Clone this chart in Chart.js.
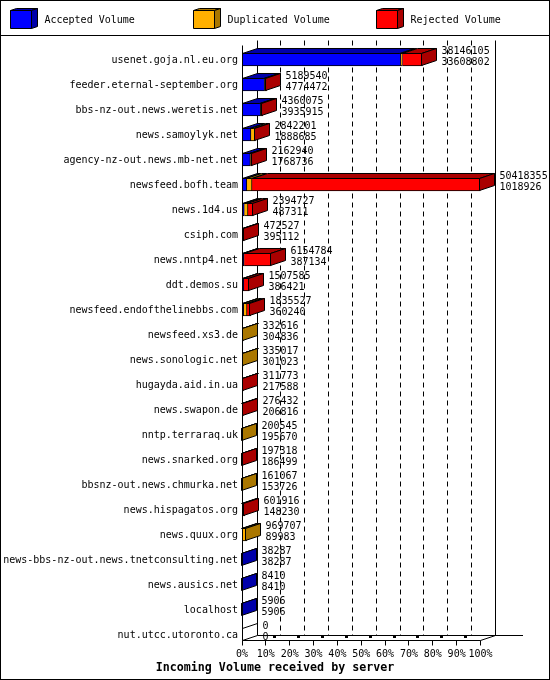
<!DOCTYPE html>
<html>
<head>
<meta charset="utf-8">
<title>Incoming Volume received by server</title>
<script src="https://cdn.jsdelivr.net/npm/chart.js@4/dist/chart.umd.min.js"></script>
<style>
    html, body { margin: 0; padding: 0; background: #fff; }
    canvas { display: block; }
</style>
</head>
<body>
<canvas id="volumeChart" width="550" height="680"></canvas>
<script>
    // Data
    const servers = [
        'usenet.goja.nl.eu.org', 'feeder.eternal-september.org', 'bbs-nz-out.news.weretis.net',
        'news.samoylyk.net', 'agency-nz-out.news.mb-net.net', 'newsfeed.bofh.team',
        'news.1d4.us', 'csiph.com', 'news.nntp4.net', 'ddt.demos.su',
        'newsfeed.endofthelinebbs.com', 'newsfeed.xs3.de', 'news.sonologic.net',
        'hugayda.aid.in.ua', 'news.swapon.de', 'nntp.terraraq.uk', 'news.snarked.org',
        'bbsnz-out.news.chmurka.net', 'news.hispagatos.org', 'news.quux.org',
        'news-bbs-nz-out.news.tnetconsulting.net', 'news.ausics.net', 'localhost',
        'nut.utcc.utoronto.ca'
    ];
    const totalVolume = [
        38146105, 5189540, 4360075, 2842201, 2162940, 50418355, 2394727, 472527,
        6154784, 1507585, 1835527, 332616, 335017, 311773, 276432, 200545,
        197318, 161067, 601916, 969707, 38287, 8410, 5906, 0
    ];
    const acceptedVolume = [
        33608802, 4774472, 3935915, 1888685, 1768736, 1018926, 487311, 395112,
        387134, 386421, 360240, 304836, 301023, 217588, 206816, 195670,
        186499, 153726, 148230, 89983, 38287, 8410, 5906, 0
    ];
    // duplicated / rejected are estimated from the width of the segments
    const duplicatedVolume = [
        300000, 260000, 120000, 800000, 40000, 1100000, 780000, 0,
        60000, 0, 700000, 27780, 33994, 0, 0, 4875,
        0, 7341, 0, 879724, 0, 0, 0, 0
    ];
    const rejectedVolume = [
        4237303, 155068, 304160, 153516, 354204, 48299429, 1127416, 77415,
        5707650, 1121164, 775287, 0, 0, 94185, 69616, 0,
        10819, 0, 453686, 0, 0, 0, 0, 0
    ];
    const tickLabels = ['0%', '10%', '20%', '30%', '40%', '50%', '60%', '70%', '80%', '90%', '100%'];

    const seriesNames = ['Accepted Volume', 'Duplicated Volume', 'Rejected Volume'];
    const frontColors = ['#0000ff', '#ffb000', '#ff0000'];
    const darkColors = ['#0000aa', '#aa7700', '#aa0000'];

    const maxVolume = Math.max(...totalVolume);
    const MONO = '"DejaVu Sans Mono", monospace';
    const DEPTH_X = 15, DEPTH_Y = 5;

    // Ham phu: ve da giac
    function poly(ctx, pts, fill) {
        ctx.beginPath();
        pts.forEach((p, i) => i ? ctx.lineTo(p[0], p[1]) : ctx.moveTo(p[0], p[1]));
        ctx.closePath();
        if (fill) { ctx.fillStyle = fill; ctx.fill(); }
        ctx.stroke();
    }
    function line(ctx, x1, y1, x2, y2) {
        ctx.beginPath();
        ctx.moveTo(x1, y1);
        ctx.lineTo(x2, y2);
        ctx.stroke();
    }
    const snap = v => Math.floor(v) + 0.5;

    // Frame, legend, back walls and floor, drawn behind the bars
    const backdrop = {
        id: 'backdrop',
        afterLayout(chart) {
            // the title is centred on the whole picture, not on the plot
            chart.titleBlock.left = 0;
            chart.titleBlock.right = 550;
        },
        beforeDatasetsDraw(chart) {
            const ctx = chart.ctx, xs = chart.scales.x;
            const floorBack = 635.5, floorFront = 640.5, wallTop = 40.5;
            ctx.save();
            ctx.strokeStyle = '#000';
            ctx.lineWidth = 1;

            // legend
            line(ctx, 0, 35.5, 550, 35.5);
            ctx.font = '10px ' + MONO;
            ctx.textBaseline = 'middle';
            ctx.textAlign = 'left';
            seriesNames.forEach((name, i) => {
                const x = 10.5 + i * 183;
                poly(ctx, [[x, 10.5], [x + 6, 8.5], [x + 27, 8.5], [x + 21, 10.5]], darkColors[i]);
                poly(ctx, [[x + 21, 10.5], [x + 27, 8.5], [x + 27, 26.5], [x + 21, 28.5]], darkColors[i]);
                poly(ctx, [[x, 10.5], [x + 21, 10.5], [x + 21, 28.5], [x, 28.5]], frontColors[i]);
                ctx.fillStyle = '#000';
                ctx.fillText(name, x + 34, 20.5);
            });

            // grid on the back wall
            ctx.setLineDash([5, 4]);
            xs.ticks.forEach((t, i) => {
                if (i === 0 || i === xs.ticks.length - 1) return;
                const x = snap(xs.getPixelForValue(t.value)) + DEPTH_X;
                line(ctx, x, wallTop, x, floorBack);
            });
            ctx.setLineDash([]);

            const left = snap(xs.getPixelForValue(0));
            const right = snap(xs.getPixelForValue(maxVolume));
            line(ctx, left + DEPTH_X, wallTop, left + DEPTH_X, floorBack);
            line(ctx, right + DEPTH_X, wallTop, right + DEPTH_X, floorBack);

            // floor
            line(ctx, left + DEPTH_X, floorBack, 523, floorBack);
            line(ctx, left, floorFront, right, floorFront);
            line(ctx, left, floorFront, left + DEPTH_X, floorBack);
            line(ctx, right, floorFront, right + DEPTH_X, floorBack);
            xs.ticks.forEach((t, i) => {
                const x = snap(xs.getPixelForValue(t.value));
                line(ctx, x, floorFront, x, 645.5);
                if (i > 0 && i < xs.ticks.length - 1) {
                    ctx.fillStyle = '#000';
                    ctx.fillRect(x + 7.5, 636, 3, 2);
                }
            });
            ctx.restore();
        },
        afterDatasetsDraw(chart) {
            const ctx = chart.ctx, xs = chart.scales.x;
            const metas = [0, 1, 2].map(d => chart.getDatasetMeta(d));
            const series = [acceptedVolume, duplicatedVolume, rejectedVolume];
            ctx.save();
            ctx.strokeStyle = '#000';
            ctx.lineWidth = 1;

            servers.forEach((name, i) => {
                const first = metas[0].data[i];
                const top = first.y - first.height / 2 + 0.5;
                const bottom = first.y + first.height / 2 - 0.5;
                let last = -1;

                // top face of each segment
                series.forEach((values, d) => {
                    if (!values[i]) return;
                    const el = metas[d].data[i];
                    const x0 = snap(el.base), x1 = snap(el.x - 1);
                    poly(ctx, [[x0, top], [x1, top], [x1 + DEPTH_X, top - DEPTH_Y], [x0 + DEPTH_X, top - DEPTH_Y]], darkColors[d]);
                    last = d;
                });

                // side face takes the colour of the last segment
                const end = last < 0 ? snap(xs.getPixelForValue(0)) : snap(metas[last].data[i].x - 1);
                if (last < 0) {
                    line(ctx, end, top, end + DEPTH_X, top - DEPTH_Y);
                } else {
                    poly(ctx, [[end, top], [end + DEPTH_X, top - DEPTH_Y], [end + DEPTH_X, bottom - DEPTH_Y], [end, bottom]], darkColors[last]);
                }

                // the two numbers next to the bar
                ctx.fillStyle = '#000';
                ctx.font = '10px ' + MONO;
                ctx.textAlign = 'left';
                ctx.textBaseline = 'middle';
                ctx.fillText(String(totalVolume[i]), end + DEPTH_X + 5, first.y - 8);
                ctx.fillText(String(acceptedVolume[i]), end + DEPTH_X + 5, first.y + 2.5);
            });

            // front axis
            const left = snap(xs.getPixelForValue(0));
            line(ctx, left, 45.5, left, 640.5);

            // image border
            ctx.strokeRect(0.5, 0.5, 549, 679);
            ctx.restore();
        }
    };

    const volumeChart = new Chart(document.getElementById('volumeChart').getContext('2d'), {
        type: 'bar',
        data: {
            labels: servers,
            datasets: [acceptedVolume, duplicatedVolume, rejectedVolume].map((values, d) => ({
                label: seriesNames[d],
                data: values,
                backgroundColor: frontColors[d],
                borderColor: '#000',
                borderWidth: 1,
                borderSkipped: 'start',
                barThickness: 13
            }))
        },
        options: {
            indexAxis: 'y',
            responsive: false,
            animation: false,
            devicePixelRatio: 1,
            layout: { padding: { top: 47, right: 69.5, bottom: 5, left: 0 } },
            plugins: {
                legend: { display: false },
                tooltip: { enabled: false },
                title: {
                    display: true,
                    text: 'Incoming Volume received by server',
                    position: 'bottom',
                    color: '#000',
                    padding: 0,
                    font: { family: MONO, size: 11.67, weight: 'bold', lineHeight: 1.2 }
                }
            },
            scales: {
                x: {
                    stacked: true,
                    min: 0,
                    max: maxVolume,
                    border: { display: false },
                    grid: { display: false, drawTicks: false },
                    afterBuildTicks: s => { s.ticks = tickLabels.map((_, i) => ({ value: maxVolume * i / 10 })); },
                    afterFit: s => { s.height = 14; },
                    ticks: {
                        color: '#000',
                        autoSkip: false,
                        maxRotation: 0,
                        padding: 1,
                        font: { family: MONO, size: 10 },
                        callback: (v, i) => tickLabels[i]
                    }
                },
                y: {
                    stacked: true,
                    border: { display: false },
                    grid: { display: false, drawTicks: false },
                    afterFit: s => { s.width = 242; },
                    ticks: {
                        color: '#000',
                        autoSkip: false,
                        padding: 4,
                        labelOffset: 1,
                        font: { family: MONO, size: 10 }
                    }
                }
            }
        },
        plugins: [backdrop, {
            id: 'whiteBg',
            beforeDraw(chart) {
                chart.ctx.fillStyle = '#fff';
                chart.ctx.fillRect(0, 0, chart.width, chart.height);
            }
        }]
    });
</script>
</body>
</html>
